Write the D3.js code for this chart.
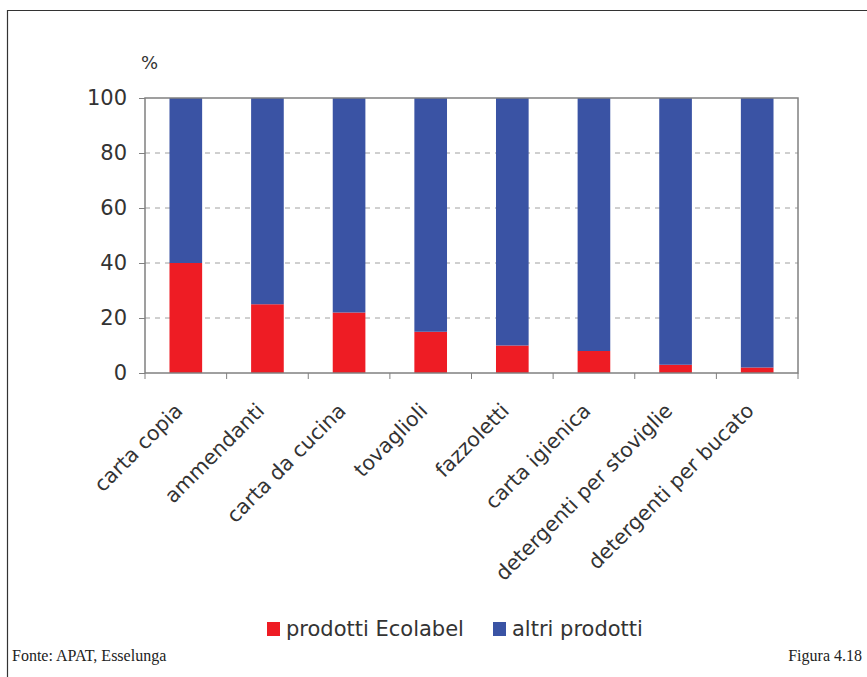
<!DOCTYPE html>
<html>
<head>
<meta charset="utf-8">
<script src="https://cdnjs.cloudflare.com/ajax/libs/d3/7.8.5/d3.min.js"></script>
<style>
  body { margin: 0; background: #fff; }
  svg { display: block; }
</style>
</head>
<body>
<div id="chart"></div>
<script>
const categories = ['carta copia', 'ammendanti', 'carta da cucina', 'tovaglioli', 'fazzoletti',
  'carta igienica', 'detergenti per stoviglie', 'detergenti per bucato'];
const ecolabel = [40, 25, 22, 15, 10, 8, 3, 2];
const altri = ecolabel.map(v => 100 - v);
const yTicks = [0, 20, 40, 60, 80, 100];
const seriesNames = ['prodotti Ecolabel', 'altri prodotti'];
const seriesColors = ['#ee1c24', '#3a53a4'];

const width = 867, height = 677;
const margin = { top: 98, right: 69, bottom: 304, left: 145 };
const labelFont = 'DejaVu Sans, Verdana, sans-serif';

const svg = d3.select('#chart').append('svg')
  .attr('width', width)
  .attr('height', height);

// outer frame (only top and left edges visible)
svg.append('path')
  .attr('d', `M7.5,${height}V10.5H${width}`)
  .attr('fill', 'none')
  .attr('stroke', '#333')
  .attr('stroke-width', 1.2);

const plotW = width - margin.left - margin.right;
const plotH = height - margin.top - margin.bottom;

const g = svg.append('g').attr('transform', `translate(${margin.left},${margin.top})`);

const x = d3.scaleBand().domain(categories).range([0, plotW]).paddingInner(0.6).paddingOuter(0.3);
const y = d3.scaleLinear().domain([0, 100]).range([plotH, 0]);

// dashed grid
g.selectAll('.grid')
  .data(yTicks.filter(t => t > 0 && t < 100))
  .enter().append('line')
  .attr('x1', 0).attr('x2', plotW)
  .attr('y1', d => y(d)).attr('y2', d => y(d))
  .attr('stroke', '#a0a0a0')
  .attr('stroke-dasharray', '5,5');

// stacked bars
const stackData = categories.map((c, i) => ({ cat: c, eco: ecolabel[i], altri: altri[i] }));
const stacked = d3.stack().keys(['eco', 'altri'])(stackData);

g.selectAll('.series')
  .data(stacked)
  .enter().append('g')
  .attr('fill', (d, i) => seriesColors[i])
  .selectAll('rect')
  .data(d => d)
  .enter().append('rect')
  .attr('x', d => x(d.data.cat))
  .attr('y', d => y(d[1]))
  .attr('width', x.bandwidth())
  .attr('height', d => y(d[0]) - y(d[1]));

// plot border
g.append('rect')
  .attr('width', plotW).attr('height', plotH)
  .attr('fill', 'none')
  .attr('stroke', '#808080')
  .attr('stroke-width', 1.5);

// y axis
const yAxis = g.append('g')
  .call(d3.axisLeft(y).tickValues(yTicks).tickSize(6).tickPadding(12));
yAxis.select('.domain').remove();
yAxis.selectAll('line').attr('stroke', '#808080');
yAxis.selectAll('text')
  .attr('font-family', labelFont)
  .attr('font-size', 21)
  .attr('fill', '#333');

// x axis ticks between categories
const boundaries = d3.range(0, categories.length + 1).map(i => i * plotW / categories.length);
g.selectAll('.xtick')
  .data(boundaries)
  .enter().append('line')
  .attr('x1', d => d).attr('x2', d => d)
  .attr('y1', plotH).attr('y2', plotH + 6)
  .attr('stroke', '#808080');

// rotated category labels
g.selectAll('.xlabel')
  .data(categories)
  .enter().append('text')
  .attr('transform', d => `translate(${x(d) + x.bandwidth() / 2 - 2},${plotH + 39}) rotate(-45)`)
  .attr('text-anchor', 'end')
  .attr('font-family', labelFont)
  .attr('font-size', 20.5)
  .attr('fill', '#333')
  .text(d => d);

// unit label
svg.append('text')
  .attr('x', 141).attr('y', 69)
  .attr('font-family', labelFont)
  .attr('font-size', 18)
  .attr('fill', '#333')
  .text('%');

// legend
const legend = svg.append('g').attr('transform', 'translate(267,629)');
const legendX = [0, 226];
seriesNames.forEach((name, i) => {
  legend.append('rect')
    .attr('x', legendX[i]).attr('y', -7)
    .attr('width', 13).attr('height', 14)
    .attr('fill', seriesColors[i]);
  legend.append('text')
    .attr('x', legendX[i] + 19).attr('y', 7)
    .attr('font-family', labelFont)
    .attr('font-size', 21)
    .attr('fill', '#333')
    .text(name);
});

// footer
svg.append('text')
  .attr('x', 12).attr('y', 661)
  .attr('font-family', 'Liberation Serif, serif')
  .attr('font-size', 16)
  .attr('fill', '#222')
  .text('Fonte: APAT, Esselunga');
svg.append('text')
  .attr('x', 862).attr('y', 661)
  .attr('text-anchor', 'end')
  .attr('font-family', 'Liberation Serif, serif')
  .attr('font-size', 16)
  .attr('fill', '#222')
  .text('Figura 4.18');
</script>
</body>
</html>
